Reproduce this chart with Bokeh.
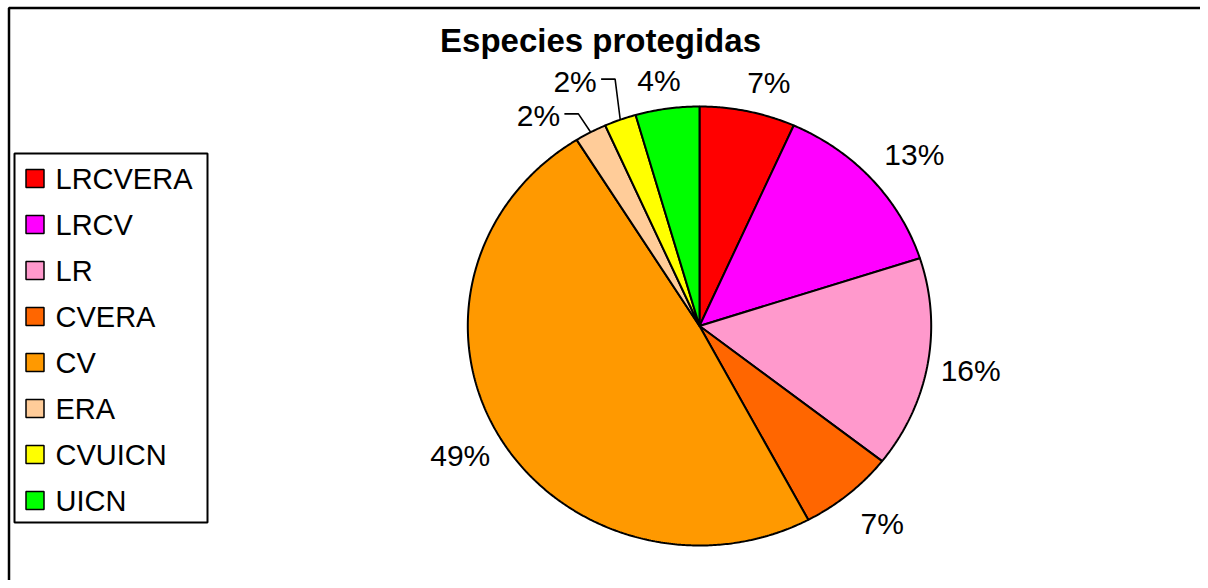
import numpy as np
from bokeh.plotting import figure
from bokeh.models import Range1d, ColumnDataSource
from bokeh.core.properties import value
from bokeh.embed import file_html
from bokeh.resources import INLINE

# ---- data ----
title = "Especies protegidas"
categories = ["LRCVERA", "LRCV", "LR", "CVERA", "CV", "ERA", "CVUICN", "UICN"]
counts = [3, 6, 7, 3, 22, 1, 1, 2]
colors = ["#FF0000", "#FF00FF", "#FF99CC", "#FF6600", "#FF9900", "#FFCC99", "#FFFF00", "#00FF00"]

# ---- layout (pixel coordinates) ----
W, H = 1200, 580
cx, cy = 699.0, 325.5
rx, ry = 231.7, 219.5
label_angle_tweak = [3.1, 1.8, -0.1, -1.3, 0.2, -8.0, -5.7, -0.9]
label_factor = [1.149, 1.214, 1.188, 1.195, 1.19, 1.183, 1.238, 1.13]
FONT = "Liberation Sans"

p = figure(width=W, height=H, output_backend="svg", toolbar_location=None,
           x_range=Range1d(0, W), y_range=Range1d(H, 0),
           min_border=0, outline_line_color=None)
p.axis.visible = False
p.grid.visible = False
p.background_fill_color = "white"
p.border_fill_color = "white"

# chart frame (left and top edges visible)
p.line(x=[8.5, 8.5, 1300], y=[700, 7.5, 7.5], line_color="black", line_width=2.5)

total = float(sum(counts))
fracs = np.array(counts) / total
ends = np.cumsum(fracs) * 360.0
starts = ends - fracs * 360.0
mids = (starts + ends) / 2.0

xs, ys = [], []
for s, e in zip(starts, ends):
    a = np.radians(np.linspace(s, e, max(int((e - s) * 2), 4)))
    xs.append(np.concatenate([[cx], cx + rx * np.sin(a)]).tolist())
    ys.append(np.concatenate([[cy], cy - ry * np.cos(a)]).tolist())
src = ColumnDataSource(dict(xs=xs, ys=ys, color=colors, cat=categories))
p.patches("xs", "ys", fill_color="color", line_color="black", line_width=2, source=src)

# percentage labels
lx, ly, txt = [], [], []
for i, m in enumerate(mids):
    a = np.radians(m + label_angle_tweak[i])
    f = label_factor[i]
    lx.append(cx + rx * f * np.sin(a))
    ly.append(cy - ry * f * np.cos(a))
    txt.append(f"{round(fracs[i] * 100):.0f}%")
p.text(x=lx, y=ly, text=txt, text_font=value(FONT), text_font_size="30px",
       text_align="center", text_baseline="middle", text_color="black")

# leader lines for small slices
for i, m in enumerate(mids):
    if fracs[i] < 0.03:
        a = np.radians(m)
        ex, ey = cx + rx * np.sin(a), cy - ry * np.cos(a)
        p.line(x=[ex, lx[i] + 40, lx[i] + 26], y=[ey, ly[i] - 2, ly[i] - 2],
               line_color="black", line_width=1.6)

# title
p.text(x=[600], y=[40], text=[title], text_font=value(FONT), text_font_size="33px",
       text_font_style="bold", text_align="center", text_baseline="middle", text_color="black")

# legend
p.quad(left=[14], right=[207], top=[153], bottom=[522], fill_color="white",
       line_color="black", line_width=2)
row_y = [178 + 46 * i for i in range(len(categories))]
p.rect(x=[34.5] * len(categories), y=row_y, width=18, height=18, fill_color=colors,
       line_color="black", line_width=1.5)
p.text(x=[55] * len(categories), y=row_y, text=categories, text_font=value(FONT),
       text_font_size="29px", text_align="left", text_baseline="middle", text_color="black")

open("out.html", "w").write(file_html(p, INLINE))
